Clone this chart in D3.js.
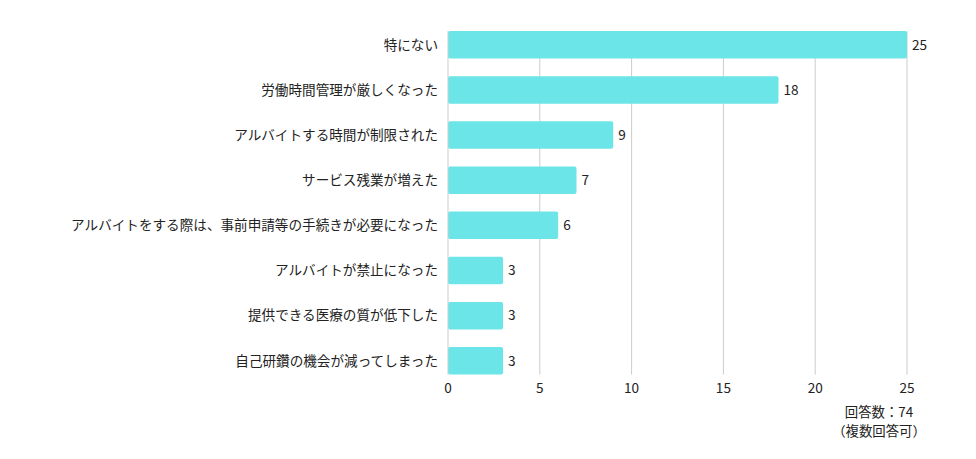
<!DOCTYPE html>
<html>
<head>
<meta charset="utf-8">
<script src="https://cdn.jsdelivr.net/npm/d3@7"></script>
<style>
  body { margin: 0; background: #fff; }
  text { font-family: "Noto Sans CJK JP", "Noto Sans", sans-serif; fill: #222; }
</style>
</head>
<body>
<script>
const categories = [
    '特にない',
    '労働時間管理が厳しくなった',
    'アルバイトする時間が制限された',
    'サービス残業が増えた',
    'アルバイトをする際は、事前申請等の手続きが必要になった',
    'アルバイトが禁止になった',
    '提供できる医療の質が低下した',
    '自己研鑽の機会が減ってしまった'
];
const values = [25, 18, 9, 7, 6, 3, 3, 3];
const xTicks = [0, 5, 10, 15, 20, 25];
const noteLines = ['回答数：74', '（複数回答可）'];

const width = 976, height = 459;
const plotLeft = 448, plotRight = 907;
const plotTop = 31, rowStep = 45.15, barH = 27.5;
const fontSize = 13.6;

const svg = d3.select("body").append("svg")
    .attr("width", width)
    .attr("height", height);

const x = d3.scaleLinear().domain([0, 25]).range([plotLeft, plotRight]);
const gap = rowStep - barH;
const y = d3.scaleBand()
    .domain(categories)
    .range([plotTop - gap / 2, plotTop - gap / 2 + rowStep * categories.length])
    .paddingInner(gap / rowStep)
    .paddingOuter(gap / rowStep / 2);

const gridTop = y(categories[0]);
const gridBottom = y(categories[categories.length - 1]) + y.bandwidth();

// grid lines
svg.append("g").selectAll("line")
    .data(xTicks.slice(1))
    .enter().append("line")
    .attr("x1", d => x(d)).attr("x2", d => x(d))
    .attr("y1", gridTop).attr("y2", gridBottom)
    .attr("stroke", "#cccccc")
    .attr("stroke-width", 1);

// bars
svg.append("g").selectAll("rect")
    .data(values)
    .enter().append("rect")
    .attr("x", x(0))
    .attr("y", (d, i) => y(categories[i]))
    .attr("width", d => x(d) - x(0))
    .attr("height", y.bandwidth())
    .attr("rx", 2)
    .attr("fill", "#6ce5e8");

// axis baseline
svg.append("line")
    .attr("x1", x(0)).attr("x2", x(0))
    .attr("y1", gridTop).attr("y2", gridBottom)
    .attr("stroke", "#cccccc");

// value labels
svg.append("g").selectAll("text")
    .data(values)
    .enter().append("text")
    .attr("x", d => x(d) + 5)
    .attr("y", (d, i) => y(categories[i]) + y.bandwidth() / 2)
    .attr("dy", "0.35em")
    .attr("font-size", fontSize)
    .text(d => d);

// category labels
svg.append("g").selectAll("text")
    .data(categories)
    .enter().append("text")
    .attr("x", plotLeft - 10)
    .attr("y", d => y(d) + y.bandwidth() / 2)
    .attr("dy", "0.35em")
    .attr("text-anchor", "end")
    .attr("font-size", fontSize)
    .text(d => d);

// x tick labels
svg.append("g").selectAll("text")
    .data(xTicks)
    .enter().append("text")
    .attr("x", d => x(d))
    .attr("y", 393)
    .attr("text-anchor", "middle")
    .attr("font-size", fontSize)
    .text(d => d);

// note
svg.append("g").selectAll("text")
    .data(noteLines)
    .enter().append("text")
    .attr("x", 879)
    .attr("y", (d, i) => 417 + i * 19)
    .attr("text-anchor", "middle")
    .attr("font-size", 13.4)
    .text(d => d);
</script>
</body>
</html>
